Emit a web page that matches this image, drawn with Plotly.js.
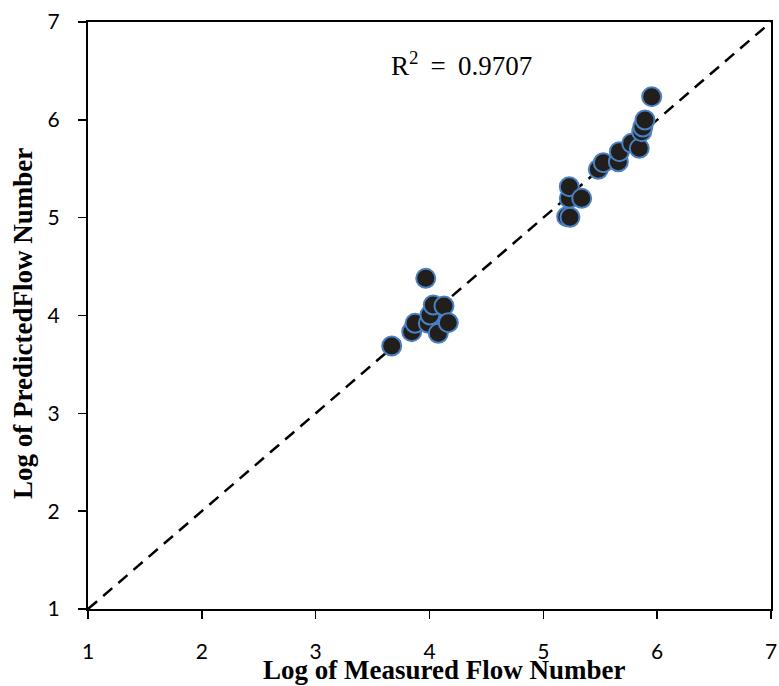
<!DOCTYPE html>
<html>
<head>
<meta charset="utf-8">
<script src="https://cdn.plot.ly/plotly-3.0.1.min.js"></script>
<style>html,body{margin:0;padding:0;background:#fff;}</style>
</head>
<body>
<div id="chart" style="width:779px;height:686px;"></div>
<script>
// Log of measured flow number (x) and log of predicted flow number (y)
const measured = [3.668, 3.844, 3.873, 3.967, 3.990, 4.004, 4.033, 4.127, 4.077, 4.165,
                  5.205, 5.234, 5.228, 5.228, 5.337,
                  5.483, 5.527, 5.659, 5.668, 5.776, 5.843, 5.864, 5.874, 5.893, 5.952];
const predicted = [3.688, 3.835, 3.920, 4.380, 3.920, 4.005, 4.107, 4.097, 3.818, 3.927,
                   5.010, 5.004, 5.198, 5.317, 5.198,
                   5.494, 5.562, 5.572, 5.675, 5.760, 5.709, 5.879, 5.927, 5.998, 6.237];
const lineX = [1, 7];
const lineY = [1, 7];
const tickVals = [1, 2, 3, 4, 5, 6, 7];
const rSquared = "0.9707";

const tickFont = {family: "Lato, 'Open Sans', sans-serif", size: 21, color: "#000"};
const titleFont = {family: "'Liberation Serif', 'DejaVu Serif', serif", size: 27, color: "#000"};

const traces = [
  {
    x: lineX, y: lineY, mode: "lines", type: "scatter",
    line: {color: "#000", width: 2.5, dash: "12px,8px"},
    hoverinfo: "skip", showlegend: false
  },
  {
    x: measured, y: predicted, mode: "markers", type: "scatter",
    marker: {size: 19, color: "#221e1b", line: {color: "#4a80c4", width: 2}},
    showlegend: false
  }
];

const axisCommon = {
  range: [1, 7], tickvals: tickVals, ticks: "outside", ticklen: 8, tickwidth: 1.5,
  tickcolor: "#000", showline: true, linecolor: "#000", linewidth: 2, mirror: true,
  showgrid: false, zeroline: false, tickfont: tickFont, fixedrange: true
};

const layout = {
  width: 779, height: 686,
  margin: {l: 88, r: 8, t: 22, b: 77},
  paper_bgcolor: "#fff", plot_bgcolor: "#fff",
  xaxis: Object.assign({}, axisCommon, {ticklabelstandoff: 15}),
  yaxis: Object.assign({}, axisCommon, {ticklabelstandoff: 14}),
  annotations: [
    {
      text: "<b>Log of Measured Flow Number</b>", xref: "paper", yref: "paper",
      x: (444 - 88) / 683, y: -(670 - 609) / 587, xanchor: "center", yanchor: "middle",
      showarrow: false, font: titleFont
    },
    {
      text: "<b>Log of PredictedFlow Number</b>", xref: "paper", yref: "paper",
      x: -(88 - 23) / 683, y: (609 - 324) / 587, xanchor: "center", yanchor: "middle",
      textangle: -90, showarrow: false, font: titleFont
    },
    {
      text: "R<sup>2</sup> \u2009= \u2009" + rSquared, xref: "paper", yref: "paper",
      x: (461 - 88) / 683, y: (609 - 64) / 587, xanchor: "center", yanchor: "middle",
      showarrow: false, font: {family: "'Liberation Serif', 'DejaVu Serif', serif", size: 27, color: "#000"}
    }
  ]
};

Plotly.newPlot("chart", traces, layout, {displayModeBar: false, staticPlot: true});
</script>
</body>
</html>
